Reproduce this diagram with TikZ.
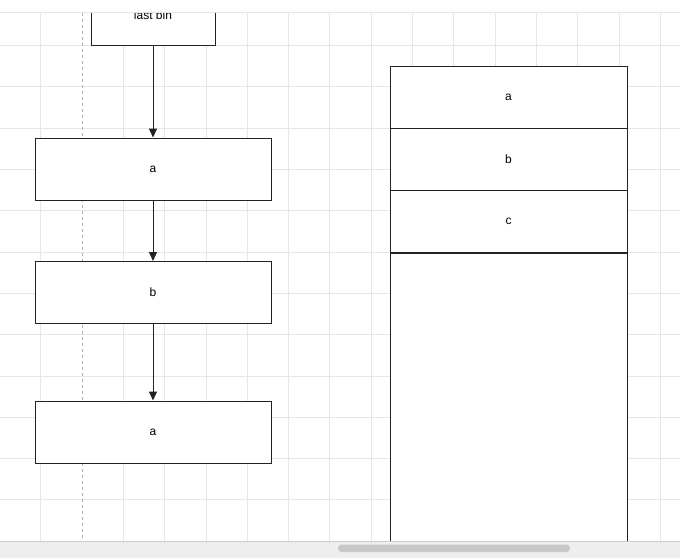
\documentclass[tikz,border=0pt]{standalone}
\usepackage{fontspec}
\setmainfont{Liberation Sans}
\usetikzlibrary{arrows.meta}
\definecolor{gridc}{HTML}{E6E6E6}
\definecolor{strokec}{HTML}{222222}
\definecolor{barc}{HTML}{EEEEEE}
\definecolor{pillc}{HTML}{C8C8C8}
\newcommand{\lowtxt}[1]{\raisebox{-2pt}{#1}}
\tikzset{
  box/.style={draw=strokec, line width=1pt, fill=white, minimum width=236pt, minimum height=62pt, inner sep=0pt, font=\fontsize{12}{14}\selectfont},
  cell/.style={draw=strokec, line width=1pt, fill=white, minimum width=237pt, minimum height=62pt, inner sep=0pt, font=\fontsize{12}{14}\selectfont},
  flow/.style={draw=strokec, line width=1pt, -{Triangle[length=9pt,width=8pt]}},
}
\begin{document}
\begin{tikzpicture}[x=1pt,y=-1pt]
\useasboundingbox (0,0) rectangle (680,558);
\fill[white] (0,0) rectangle (680,558);
% grid
\foreach \gx in {40.5,123.3,164.6,205.9,247.2,288.5,329.8,371.1,412.4,453.7,495,536.3,577.6,618.9,660.2}
  \draw[gridc, line width=0.8pt] (\gx,13) -- (\gx,541);
\foreach \gy in {45.5,86.8,128.1,169.4,210.7,252,293.3,334.6,375.9,417.2,458.5,499.8}
  \draw[gridc, line width=0.8pt] (0,\gy) -- (680,\gy);
\draw[gray!60, dashed, line width=0.8pt] (82,13) -- (82,541);
% left flow
\node[box, minimum width=124pt, minimum height=50pt] (bin) at (153,20) {};
\node[font=\fontsize{12}{14}\selectfont] (bintext) at (153,15) {last bin};
\node[box] (a1) at (153,169) {\lowtxt{a}};
\node[box] (b1) at (153,292.5) {\lowtxt{b}};
\node[box] (a2) at (153,432) {\lowtxt{a}};
\draw[flow] (bin.south) -- (a1.north);
\draw[flow] (a1.south) -- (b1.north);
\draw[flow] (b1.south) -- (a2.north);
% right stack
\node[cell] (sa) at (508.5,97) {\lowtxt{a}};
\node[cell] (sb) at (508.5,159) {\lowtxt{b}};
\node[cell] (sc) at (508.5,221) {\lowtxt{c}};
\node[cell, minimum height=296pt, anchor=north] (sd) at (sc.south) {};
% toolbar band
\fill[white] (0,0) rectangle (680,12);
\draw[gridc, line width=1pt] (0,12.5) -- (680,12.5);
% scrollbar band
\fill[barc] (0,541) rectangle (680,558);
\draw[gray!40, line width=0.6pt] (0,541) -- (680,541);
\fill[pillc, rounded corners=3.5pt] (338,544.5) rectangle (570,552);
\end{tikzpicture}
\end{document}
